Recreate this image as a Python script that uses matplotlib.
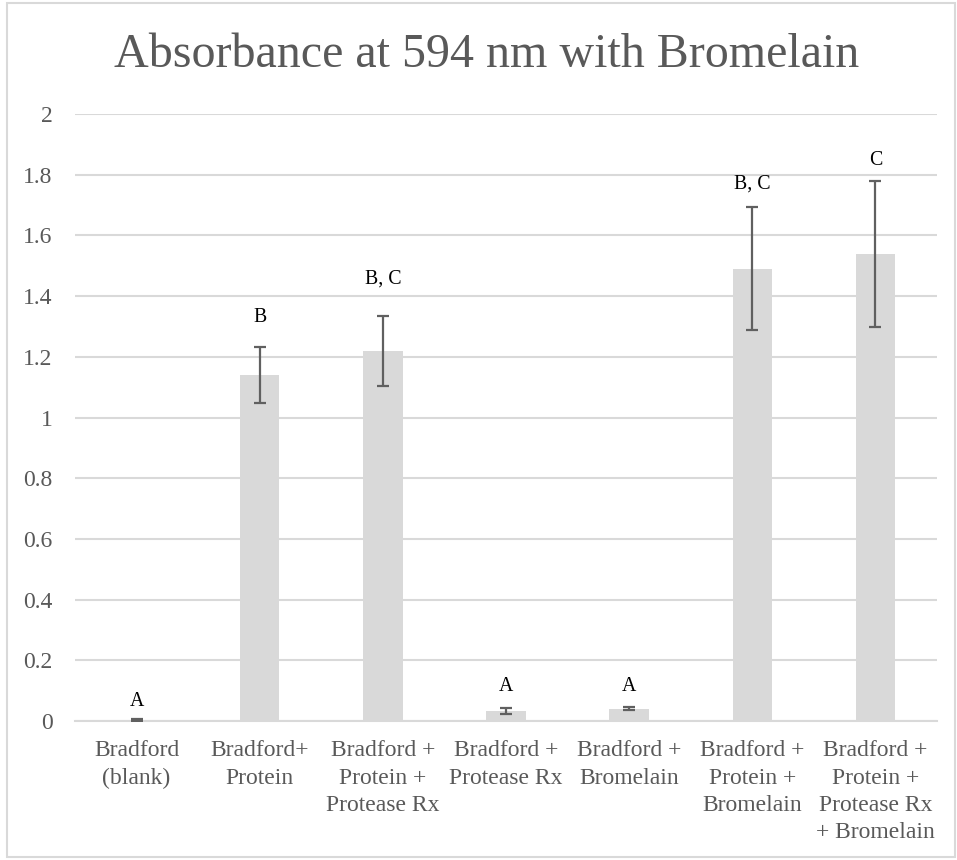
import matplotlib
matplotlib.use("Agg")
import matplotlib.pyplot as plt
from matplotlib.patches import Rectangle

categories = ["Bradford\n(blank)", "Bradford+\nProtein", "Bradford +\nProtein +\nProtease Rx",
              "Bradford +\nProtease Rx", "Bradford +\nBromelain", "Bradford +\nProtein +\nBromelain",
              "Bradford +\nProtein +\nProtease Rx\n+ Bromelain"]
means = [0.003, 1.14, 1.22, 0.033, 0.041, 1.49, 1.538]
errors = [0.002, 0.091, 0.115, 0.009, 0.006, 0.203, 0.241]
letters = ["A", "B", "B, C", "A", "A", "B, C", "C"]
letter_y = [0.064, 1.33, 1.455, 0.113, 0.115, 1.77, 1.848]
yticks = [0, 0.2, 0.4, 0.6, 0.8, 1, 1.2, 1.4, 1.6, 1.8, 2]
ytick_labels = ["0", "0.2", "0.4", "0.6", "0.8", "1", "1.2", "1.4", "1.6", "1.8", "2"]

serif = ["Liberation Serif", "DejaVu Serif"]
plt.rcParams["font.family"] = serif
text_gray = "#595959"
light = "#d9d9d9"

fig = plt.figure(figsize=(9.57, 8.6), dpi=100)
ax = fig.add_axes([75/957, 1-721/860, (937-75)/957, (721-114)/860])

x = list(range(len(categories)))
ax.bar(x, means, width=0.32, color=light, zorder=2)
ax.errorbar(x, means, yerr=errors, fmt="none", ecolor="#606060", elinewidth=1.6,
            capsize=4.3, capthick=1.6, zorder=3)
for xi, lab, ly in zip(x, letters, letter_y):
    ax.text(xi, ly, lab, ha="center", va="center", fontsize=14.3, color="black", zorder=4)

ax.set_xlim(-0.5, len(categories) - 0.5)
ax.set_ylim(0, 2)
ax.set_yticks(yticks)
ax.set_yticklabels(ytick_labels)
ax.yaxis.grid(True, color=light, linewidth=1.5, zorder=0)
ax.set_axisbelow(True)
ax.set_xticks(x)
ax.set_xticklabels(categories, linespacing=1.38)
ax.tick_params(axis="both", length=0, labelsize=17, colors=text_gray)
ax.tick_params(axis="y", pad=16)
ax.tick_params(axis="x", pad=14)
for s in ["top", "right", "left"]:
    ax.spines[s].set_visible(False)
ax.spines["bottom"].set_color(light)
ax.spines["bottom"].set_linewidth(1.5)

fig.text(487/957, 1-55/860, "Absorbance at 594 nm with Bromelain", ha="center", va="center",
         fontsize=34.6, color=text_gray)

fig.patches.append(Rectangle((7/957, 3/860), (955-7)/957, (857-3)/860, transform=fig.transFigure,
                             fill=False, edgecolor=light, linewidth=1.5))

fig.savefig("out.png", dpi=100, facecolor="white")
